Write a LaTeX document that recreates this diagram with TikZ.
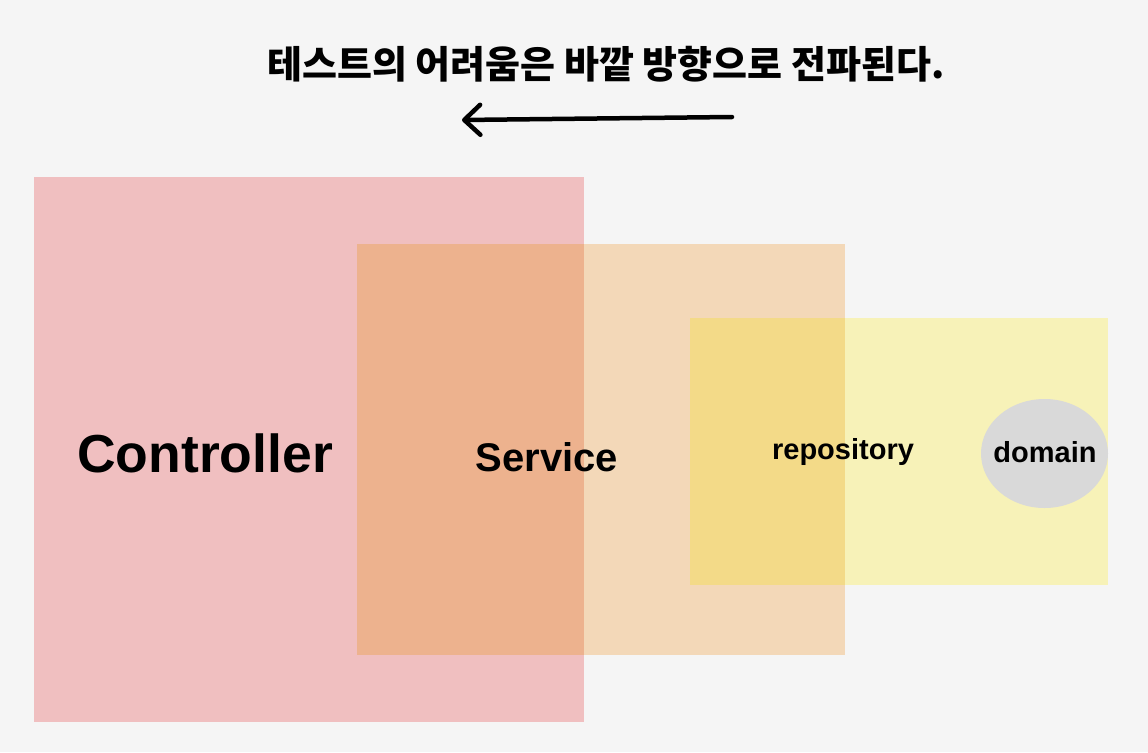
\documentclass[tikz,border=0pt]{standalone}
\usepackage{fontspec}
\setmainfont{Liberation Sans}
\newfontfamily\krfont{Noto Sans CJK KR}
\usetikzlibrary{arrows.meta}
\definecolor{bg}{HTML}{F5F5F5}
\definecolor{ctrl}{HTML}{F0BFC0}
\definecolor{svc}{HTML}{F3D8B8}
\definecolor{ctrlsvc}{HTML}{EDB28E}
\definecolor{repo}{HTML}{F7F2B8}
\definecolor{svcrepo}{HTML}{F3DA88}
\definecolor{dom}{HTML}{D9D9D9}
\tikzset{
  lbl/.style={text=black, inner sep=0pt},
}
\begin{document}
\begin{tikzpicture}[x=1pt,y=-1pt]
\fill[bg] (0,0) rectangle (1148,752);
\useasboundingbox (0,0) rectangle (1148,752);
% boxes
\fill[ctrl] (34,177) rectangle (584,722);
\fill[svc] (357,244) rectangle (845,655);
\fill[ctrlsvc] (357,244) rectangle (584,655);
\fill[repo] (690,318) rectangle (1108,585);
\fill[svcrepo] (690,318) rectangle (845,585);
\fill[dom] (1044.5,453.5) ellipse [x radius=63.5, y radius=54.5];
% labels
\node[lbl, font=\bfseries\fontsize{53.5}{60}\selectfont] (controller) at (205,453) {Controller};
\node[lbl, font=\bfseries\fontsize{40}{46}\selectfont] (service) at (547,457) {Service};
\node[lbl, font=\bfseries\fontsize{29}{33}\selectfont] (repository) at (843,452) {repository};
\node[lbl, font=\bfseries\fontsize{29}{33}\selectfont] (domain) at (1045,452) {domain};
% title
\node[lbl, font=\krfont\bfseries\fontsize{38}{44}\selectfont] (title) at (606,64) {테스트의 어려움은 바깥 방향으로 전파된다.};
% arrow
\coordinate (astart) at (732,117);
\coordinate (aend) at (462,120);
\draw[line width=4.5, line cap=round, -{Straight Barb[length=16,width=30,line width=4.5,round]}] (astart) -- (aend);
\end{tikzpicture}
\end{document}
